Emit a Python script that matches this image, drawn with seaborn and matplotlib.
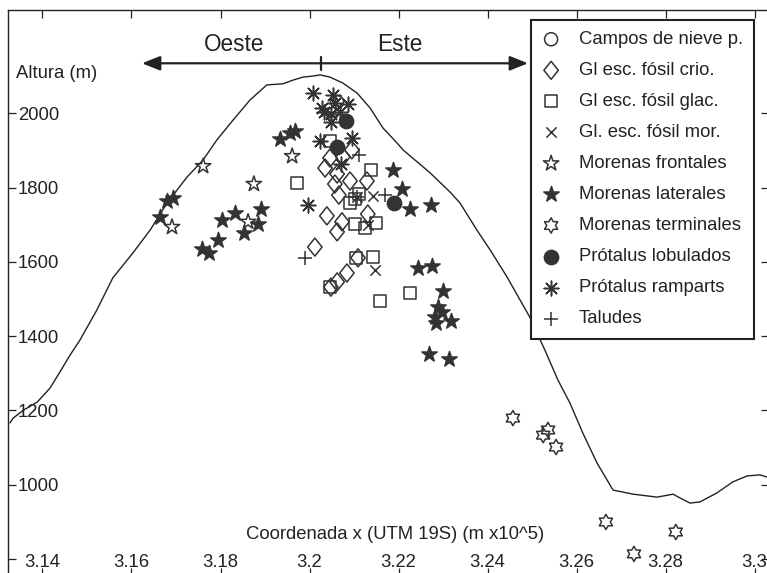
import numpy as np
import matplotlib
matplotlib.use("Agg")
import matplotlib.pyplot as plt
from matplotlib.path import Path
import seaborn as sns

# ---------------- data ----------------
profile_x = [3.1327, 3.1334, 3.1358, 3.1388, 3.1417, 3.1439, 3.1462, 3.1484, 3.1522, 3.1558,
             3.1585, 3.1603, 3.1642, 3.1680, 3.1725, 3.1761, 3.1792, 3.1828, 3.1866, 3.1904,
             3.1940, 3.1963, 3.1985, 3.2008, 3.2024, 3.2046, 3.2075, 3.2107, 3.2136, 3.2165,
             3.2197, 3.2210, 3.2271, 3.2316, 3.2338, 3.2376, 3.2406, 3.2444, 3.2495, 3.2529,
             3.2558, 3.2585, 3.2614, 3.2646, 3.2682, 3.2727, 3.2781, 3.2817, 3.2832, 3.2855,
             3.2877, 3.2915, 3.2951, 3.2983, 3.3012, 3.3028]
profile_y = [1166, 1179, 1201, 1222, 1260, 1303, 1349, 1389, 1470, 1557,
             1597, 1624, 1686, 1759, 1829, 1875, 1929, 1982, 2036, 2077,
             2080, 2090, 2098, 2101, 2104, 2098, 2082, 2055, 2015, 1961,
             1920, 1902, 1840, 1788, 1759, 1686, 1632, 1559, 1451, 1362,
             1282, 1220, 1139, 1058, 985, 974, 966, 974, 964, 950,
             953, 977, 1007, 1023, 1026, 1020]

campos_x = [3.2062]
campos_y = [2031]

crio_x = [3.2046, 3.2035, 3.2075, 3.2095, 3.2062, 3.2057, 3.2091, 3.2129, 3.2066, 3.2039,
          3.2073, 3.2062, 3.2131, 3.2012, 3.2109, 3.2084, 3.2062, 3.2048]
crio_y = [1880, 1853, 1883, 1902, 1837, 1810, 1818, 1818, 1780, 1724,
          1708, 1681, 1729, 1640, 1611, 1570, 1546, 1532]

glac_x = [3.2046, 3.2138, 3.1972, 3.2111, 3.2102, 3.2091, 3.2102, 3.2125, 3.2149, 3.2104,
          3.2143, 3.2046, 3.2158, 3.2226]
glac_y = [1926, 1848, 1813, 1783, 1770, 1759, 1702, 1691, 1705, 1611,
          1613, 1532, 1495, 1516]

mor_x = [3.2143, 3.2131, 3.2147, 3.2107]
mor_y = [1778, 1699, 1578, 1775]

frontales_x = [3.1761, 3.1875, 3.1961, 3.1691, 3.1862]
frontales_y = [1858, 1810, 1885, 1694, 1708]

laterales_x = [3.1664, 3.1680, 3.1693, 3.1758, 3.1774, 3.1794, 3.1803, 3.1833, 3.1853, 3.1884,
               3.1891, 3.1934, 3.1956, 3.1967, 3.2188, 3.2208, 3.2226, 3.2273, 3.2244, 3.2275,
               3.2300, 3.2289, 3.2298, 3.2282, 3.2284, 3.2318, 3.2268, 3.2313]
laterales_y = [1721, 1764, 1772, 1635, 1624, 1659, 1713, 1732, 1678, 1702,
               1743, 1931, 1947, 1953, 1849, 1796, 1743, 1753, 1584, 1589,
               1522, 1478, 1465, 1451, 1435, 1441, 1352, 1338]

terminales_x = [3.2457, 3.2525, 3.2536, 3.2554, 3.2666, 3.2729, 3.2823]
terminales_y = [1179, 1133, 1147, 1101, 899, 813, 872]

lobulados_x = [3.2082, 3.2062, 3.2190]
lobulados_y = [1980, 1910, 1759]

ramparts_x = [3.2008, 3.2053, 3.2028, 3.2033, 3.2057, 3.2086, 3.2068, 3.2048, 3.2048, 3.2024,
              3.2095, 3.2071, 3.1997]
ramparts_y = [2055, 2050, 2015, 2004, 2028, 2026, 2004, 1999, 1977, 1926,
              1934, 1864, 1753]

taludes_x = [3.2111, 3.2170, 3.1990, 3.2107]
taludes_y = [1888, 1780, 1611, 1775]

labels = ["Campos de nieve p.", "Gl esc. fósil crio.", "Gl esc. fósil glac.",
          "Gl. esc. fósil mor.", "Morenas frontales", "Morenas laterales",
          "Morenas terminales", "Prótalus lobulados", "Prótalus ramparts", "Taludes"]

x_ticks = [3.14, 3.16, 3.18, 3.20, 3.22, 3.24, 3.26, 3.28, 3.30]
x_tick_labels = ["3.14", "3.16", "3.18", "3.2", "3.22", "3.24", "3.26", "3.28", "3.3"]
y_ticks = [800, 1000, 1200, 1400, 1600, 1800, 2000]
y_tick_labels = ["", "1000", "1200", "1400", "1600", "1800", "2000"]

xlabel = "Coordenada x (UTM 19S) (m x10^5)"
ylabel = "Altura (m)"
west_label = "Oeste"
east_label = "Este"

# ---------------- style ----------------
sns.set_theme(style="ticks")
plt.rcParams["font.family"] = ["Liberation Sans", "DejaVu Sans"]
FS = 13.3
INK = "#222222"
MK = "#333333"

# custom marker shapes
diamond = Path([(0, 1), (0.8, 0), (0, -1), (-0.8, 0), (0, 1)],
               [Path.MOVETO, Path.LINETO, Path.LINETO, Path.LINETO, Path.CLOSEPOLY])
ang = np.deg2rad(90 + 30 * np.arange(12))
rad = np.where(np.arange(12) % 2 == 0, 1.0, 1 / np.sqrt(3))
hv = np.column_stack([rad * np.cos(ang), rad * np.sin(ang)])
hv = np.vstack([hv, hv[:1]])
hexagram = Path(hv, [Path.MOVETO] + [Path.LINETO] * 11 + [Path.CLOSEPOLY])

fig = plt.figure(figsize=(7.67, 5.73), dpi=100)
ax = fig.add_axes([8 / 767, 1 - 575 / 573, 760 / 767, 565.5 / 573])

sns.lineplot(x=profile_x, y=profile_y, sort=False, estimator=None, color=INK,
             linewidth=1.0, ax=ax, zorder=1)

series = [
    (campos_x, campos_y, "o", 88, "none"),
    (crio_x, crio_y, diamond, 169, "none"),
    (glac_x, glac_y, "s", 72, "none"),
    (mor_x, mor_y, "x", 55, None),
    (frontales_x, frontales_y, "*", 135, "none"),
    (laterales_x, laterales_y, "*", 135, MK),
    (terminales_x, terminales_y, hexagram, 120, "none"),
    (lobulados_x, lobulados_y, "o", 105, MK),
    (ramparts_x, ramparts_y, (8, 2, 0), 110, None),
    (taludes_x, taludes_y, "+", 95, None),
]
for (xs, ys, m, s, fc), lab in zip(series, labels):
    kw = dict(x=xs, y=ys, marker=m, s=s, linewidth=1.1, ax=ax, label=lab,
              zorder=3, color=MK, edgecolor=MK)
    if fc is not None:
        kw["facecolor"] = fc
    sns.scatterplot(**kw)

ax.set_xlim(3.13225, 3.30302)
ax.set_ylim(756.1, 2280.3)
ax.set_xticks(x_ticks)
ax.set_xticklabels(x_tick_labels)
ax.set_yticks(y_ticks)
ax.set_yticklabels(y_tick_labels)
ax.tick_params(which="both", direction="in", length=5.4, width=0.9, color=INK,
               top=True, right=True, labelsize=FS, labelcolor=INK)
ax.tick_params(axis="y", pad=-7.2)
ax.tick_params(axis="x", pad=-5.8)
for sp in ax.spines.values():
    sp.set_linewidth(1.0)
    sp.set_color(INK)

ax.set_xlabel(xlabel, fontsize=FS, color=INK)
ax.xaxis.set_label_coords(0.509, 0.0725)
ax.xaxis.label.set_va("center")
ax.set_ylabel(ylabel, fontsize=FS, color=INK, rotation=0)
ax.yaxis.set_label_coords(0.0105, 0.886)
ax.yaxis.label.set_ha("left")
ax.yaxis.label.set_va("center")

# Oeste / Este arrow
arrow_y = 2135.3
arrow_mid = 3.20258
arrow_left = 3.16236
arrow_right = 3.24909
head = dict(arrowstyle="-|>,head_length=0.55,head_width=0.22", mutation_scale=20,
            color=INK, lw=1.6, shrinkA=0, shrinkB=0)
ax.annotate("", xy=(arrow_left, arrow_y), xytext=(arrow_mid, arrow_y), arrowprops=head)
ax.annotate("", xy=(arrow_right, arrow_y), xytext=(arrow_mid, arrow_y), arrowprops=head)
sns.lineplot(x=[arrow_mid, arrow_mid], y=[2117, 2152], color=INK, linewidth=1.6,
             ax=ax, estimator=None, sort=False)
ax.text(3.1830, 2185.4, west_label, fontsize=16.3, ha="center", va="center", color=INK)
ax.text(3.2202, 2185.4, east_label, fontsize=16.3, ha="center", va="center", color=INK)

leg = ax.legend(loc="upper right", bbox_to_anchor=(0.9816, 0.9814), borderaxespad=0,
                fontsize=FS, frameon=True, fancybox=False, framealpha=1,
                edgecolor=INK, labelspacing=0.76, handlelength=1.0, handletextpad=1.0,
                borderpad=0.6, scatterpoints=1)
leg.get_frame().set_linewidth(1.5)
for t in leg.get_texts():
    t.set_color(INK)

for t in ax.get_yticklabels():
    t.set_horizontalalignment("left")
for t in ax.get_xticklabels():
    t.set_verticalalignment("baseline")

fig.savefig("out.png", dpi=100)
